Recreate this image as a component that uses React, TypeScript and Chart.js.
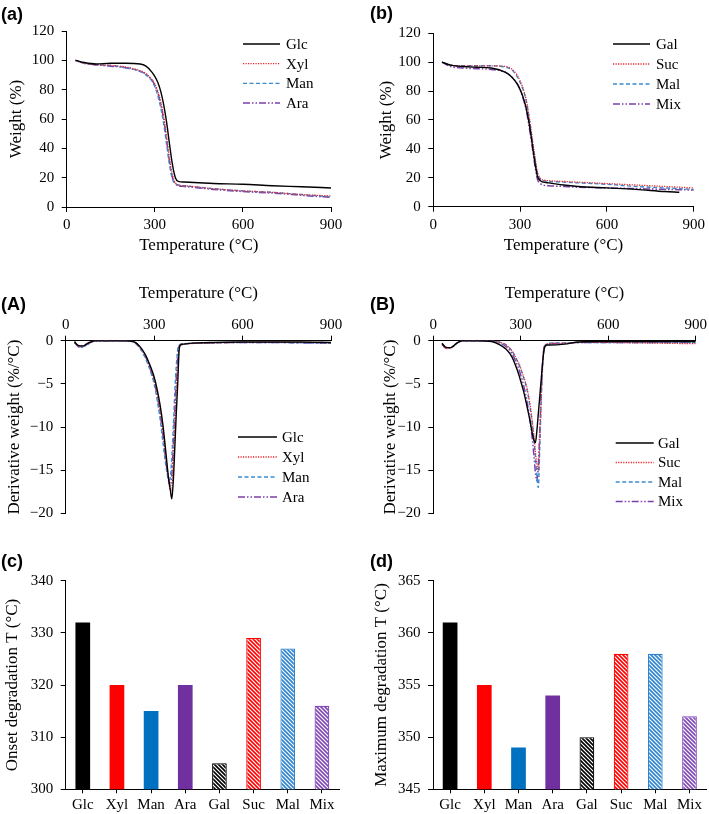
import React, { useEffect, useRef } from "react";
import { Chart, registerables } from "chart.js";
Chart.register(...registerables);

// ---------------- DATA ----------------
// TGA (a)
const TGA_A_T = [30, 60, 100, 150, 200, 250, 270, 290, 300, 310, 320, 330, 340, 350, 360, 370, 380, 400, 450, 500, 600, 700, 800, 900];
const TGA_GLC = [100, 98.5, 97.5, 98, 98, 97.5, 96, 92, 89, 85, 79, 70, 58, 43, 29, 20, 17.5, 17, 16.5, 16, 15.5, 14.5, 13.8, 13];
const TGA_XYL = [100, 98, 97, 96.5, 95.5, 93, 91, 87, 84, 79, 72, 62, 48, 33, 22, 16.5, 15, 14.5, 13.5, 12.5, 11, 10, 8.5, 7.5];
const TGA_MAN = [100, 98, 97, 96.5, 95, 92.5, 90, 86, 82, 76, 68, 57, 43, 29, 19, 16, 15, 14.5, 13.5, 12.5, 11, 10, 8.5, 7];
const TGA_ARA = [100, 98, 97, 96, 95, 92.5, 90.5, 86.5, 83, 78, 70, 60, 46, 31, 20, 16, 14.5, 14, 13, 12, 10.5, 9.5, 8, 6.5];
// TGA (b)
const TGA_B_T = [30, 60, 100, 150, 200, 250, 270, 290, 300, 310, 320, 330, 340, 350, 360, 370, 380, 400, 450, 500, 600, 700, 800, 850, 900];
const TGA_GAL = [100, 98, 97, 96.5, 96, 93, 90, 85, 81, 76, 69, 59, 46, 32, 21, 18, 17, 16.5, 15, 14, 13, 12, 10.5, 10, null];
const TGA_SUC = [100, 98, 97.5, 97.5, 97.5, 97, 95.5, 91, 87, 82, 75, 64, 50, 36, 24, 19.5, 18.5, 18, 17.5, 17, 16, 15, 14, 13.5, 13];
const TGA_MAL = [100, 98, 97.5, 97.5, 97.5, 96.5, 95, 90, 86, 81, 74, 63, 49, 35, 23, 19, 18, 17.5, 17, 16.5, 15.5, 14, 13, 12.5, 12];
const TGA_MIX = [100, 97, 96, 95.5, 95, 93, 90, 85, 81, 75, 68, 57, 44, 30, 19, 16, 15, 14.5, 14, 13.5, 13, 12.5, 12, 11.8, 11.5];
// DTG (A)
const DTG_T = [30, 40, 50, 60, 70, 80, 90, 100, 150, 200, 230, 250, 270, 290, 300, 310, 320, 330, 340, 345, 350, 355, 360, 365, 370, 375, 380, 385, 390, 400, 450, 500, 600, 700, 800, 900];
const DTG_GLC = [-0.1, -0.5, -0.6, -0.6, -0.4, -0.2, -0.1, 0, 0, 0, -0.1, -0.6, -1.6, -3.2, -4.2, -5.6, -7.4, -9.8, -13, -14.7, -16.2, -17.3, -18.3, -16.2, -12.5, -8.5, -5, -1.0, -0.5, -0.4, -0.25, -0.2, -0.15, -0.15, -0.15, -0.2];
const DTG_XYL = [-0.2, -0.5, -0.6, -0.6, -0.4, -0.2, -0.1, 0, 0, 0, -0.1, -0.7, -1.7, -3.4, -4.5, -6, -8, -10.5, -13.5, -15, -16.3, -17.3, -17.2, -14, -10, -6, -3, -0.9, -0.5, -0.4, -0.3, -0.25, -0.2, -0.2, -0.2, -0.25];
const DTG_MAN = [-0.2, -0.6, -0.7, -0.7, -0.5, -0.3, -0.1, 0, 0, 0, -0.15, -0.8, -2, -3.8, -5, -6.8, -9, -11.8, -14.5, -15.6, -16.2, -15.8, -13.5, -10, -6, -3, -1, -0.5, -0.4, -0.35, -0.3, -0.25, -0.2, -0.2, -0.25, -0.3];
const DTG_ARA = [-0.2, -0.6, -0.8, -0.7, -0.5, -0.3, -0.1, 0, 0, 0, -0.1, -0.7, -1.8, -3.6, -4.7, -6.3, -8.4, -11, -14, -15.3, -16.3, -16.8, -15.5, -12, -8, -4.5, -1.8, -0.6, -0.45, -0.35, -0.3, -0.25, -0.2, -0.2, -0.25, -0.3];
// DTG (B)
const DTG_GAL = [-0.3, -0.7, -0.8, -0.8, -0.6, -0.3, -0.1, 0, 0, -0.1, -0.5, -1.0, -1.9, -3.6, -4.7, -5.9, -7.4, -9, -10.8, -11.5, -11.8, -10.5, -8.5, -6.5, -4.5, -2.5, -1, -0.6, -0.5, -0.5, -0.4, -0.15, -0.1, -0.1, -0.1, -0.1];
const DTG_SUC = [-0.5, -0.8, -0.9, -0.8, -0.6, -0.3, -0.1, 0, 0, 0, -0.2, -0.5, -1.2, -2.4, -3.2, -4.2, -5.3, -7, -9.5, -11, -12.8, -14.3, -15, -11.5, -6.5, -2.5, -0.8, -0.5, -0.4, -0.3, -0.3, -0.2, -0.2, -0.25, -0.3, -0.35];
const DTG_MAL = [-0.4, -0.7, -0.8, -0.8, -0.6, -0.3, -0.1, 0, 0, 0, -0.2, -0.5, -1.2, -2.5, -3.3, -4.3, -5.5, -7.3, -9.8, -11.5, -13.5, -15.5, -17, -12.5, -7, -2.8, -0.8, -0.5, -0.4, -0.3, -0.25, -0.2, -0.2, -0.2, -0.2, -0.2];
const DTG_MIX = [-0.4, -0.8, -0.9, -0.8, -0.6, -0.3, -0.1, 0, 0, -0.05, -0.3, -0.7, -1.5, -3, -4, -5.2, -6.8, -8.8, -11.5, -13.3, -15.2, -16.2, -14.5, -10.5, -6, -2.5, -0.8, -0.5, -0.4, -0.35, -0.3, -0.2, -0.2, -0.2, -0.2, -0.2];
// Bars (c), (d)
const BAR_LABELS = ["Glc", "Xyl", "Man", "Ara", "Gal", "Suc", "Mal", "Mix"];
const ONSET_T = [332, 320, 315, 320, 305, 329, 327, 316];
const MAX_T = [361, 355, 349, 354, 350, 358, 358, 352];
// Tick ranges
const TEMP_TICKS = { min: 0, max: 900, step: 300 };
const WEIGHT_TICKS = { min: 0, max: 120, step: 20 };
const DERIV_TICKS = { min: -20, max: 0, step: 5 };
const ONSET_TICKS = { min: 300, max: 340, step: 10 };
const MAX_TICKS = { min: 345, max: 365, step: 5 };

// ---------------- STYLE ----------------
const FONT = "'Liberation Serif', 'Times New Roman', serif";
const TICK_SIZE = 15;
const TITLE_SIZE = 17;
const LEG_SIZE = 15;

const S_BLACK = { color: "#000000", dash: [] as number[], width: 1.4 };
const S_RED = { color: "#e8262b", dash: [1.2, 1.3], width: 1.3 };
const S_BLUE = { color: "#3a8ad0", dash: [4, 2.5], width: 1.4 };
const S_PURPLE = { color: "#7b3fab", dash: [7, 2, 1.5, 2, 1.5, 2], width: 1.5 };

const BAR_COLORS = ["#000000", "#ff0000", "#0070c0", "#7030a0", "#000000", "#ff0000", "#2f84d0", "#8047b8"];

type Leg = { x: number; y: number; dy: number; len: number; tx: number };

function hatch(color: string) {
  const c = document.createElement("canvas");
  c.width = 4;
  c.height = 4;
  const g = c.getContext("2d")!;
  g.fillStyle = "#ffffff";
  g.fillRect(0, 0, 4, 4);
  g.strokeStyle = color;
  g.lineWidth = 1.6;
  g.beginPath();
  g.moveTo(-1, -1);
  g.lineTo(5, 5);
  g.moveTo(-1, 3);
  g.lineTo(1, 5);
  g.moveTo(3, -1);
  g.lineTo(5, 1);
  g.stroke();
  return g.createPattern(c, "repeat")!;
}

function decor(label: string, lx: number, ly: number, names?: string[], styles?: any[], leg?: Leg) {
  return {
    id: "decor",
    afterDraw(chart: any) {
      const ctx = chart.ctx as CanvasRenderingContext2D;
      ctx.save();
      ctx.fillStyle = "#000";
      ctx.textAlign = "left";
      ctx.textBaseline = "middle";
      ctx.font = "bold 18px 'Liberation Sans', Arial, sans-serif";
      ctx.fillText(label, lx, ly);
      if (names && styles && leg) {
        ctx.font = `${LEG_SIZE}px ${FONT}`;
        names.forEach((n, i) => {
          const y = leg.y + i * leg.dy;
          const s = styles[i];
          ctx.strokeStyle = s.color;
          ctx.lineWidth = s.width;
          ctx.setLineDash(s.dash);
          ctx.beginPath();
          ctx.moveTo(leg.x, y);
          ctx.lineTo(leg.x + leg.len, y);
          ctx.stroke();
          ctx.setLineDash([]);
          ctx.fillStyle = "#000";
          ctx.fillText(n, leg.tx, y + 1);
        });
      }
      ctx.restore();
    },
  };
}

const tickFont = { family: FONT, size: TICK_SIZE };
const titleFont = { family: FONT, size: TITLE_SIZE };

function axisBase(tickLen: number) {
  return {
    grid: { display: true, drawOnChartArea: false, drawTicks: true, tickLength: tickLen, color: "#000", lineWidth: 1 },
    border: { display: true, color: "#000", width: 1 },
  };
}

const minusFmt = (v: any) => (Number(v) < 0 ? "\u2212" + Math.abs(Number(v)) : String(v));

function lineConfig(o: {
  T: number[];
  series: (number | null)[][];
  names: string[];
  styles: any[];
  ticksY: { min: number; max: number; step: number };
  yTitle: string;
  xTop: boolean;
  pad: { left: number; right: number; top: number; bottom: number };
  yWidth: number;
  xHeight: number;
  yTitlePad: number;
  xTitlePad: number;
  xTickPad: number;
  label: string;
  lx: number;
  ly: number;
  leg: Leg;
}) {
  const datasets = o.series.map((vals, i) => ({
    label: o.names[i],
    data: o.T.map((t, j) => ({ x: t, y: vals[j] })),
    borderColor: o.styles[i].color,
    borderDash: o.styles[i].dash,
    borderWidth: o.styles[i].width,
    pointRadius: 0,
    fill: false,
    cubicInterpolationMode: "monotone",
    spanGaps: false,
  }));
  return {
    type: "line",
    data: { datasets },
    options: {
      animation: false,
      responsive: false,
      events: [],
      layout: { padding: { left: o.pad.left, right: o.pad.right, top: o.pad.top, bottom: o.pad.bottom } },
      plugins: { legend: { display: false }, tooltip: { enabled: false } },
      scales: {
        x: {
          type: "linear",
          position: o.xTop ? "top" : "bottom",
          min: TEMP_TICKS.min,
          max: TEMP_TICKS.max,
          ticks: { stepSize: TEMP_TICKS.step, color: "#000", font: tickFont, padding: o.xTickPad, maxRotation: 0 },
          ...axisBase(5),
          title: {
            display: true,
            text: "Temperature (\u00b0C)",
            color: "#000",
            font: titleFont,
            padding: o.xTop ? { top: o.xTitlePad, bottom: 0 } : { top: 0, bottom: o.xTitlePad },
          },
          afterFit: (s: any) => {
            s.height = o.xHeight;
          },
        },
        y: {
          min: o.ticksY.min,
          max: o.ticksY.max,
          ticks: { stepSize: o.ticksY.step, color: "#000", font: tickFont, padding: 7.5, callback: minusFmt },
          ...axisBase(5),
          title: { display: true, text: o.yTitle, color: "#000", font: titleFont, padding: { top: o.yTitlePad, bottom: 0 } },
          afterFit: (s: any) => {
            s.width = o.yWidth;
          },
        },
      },
    },
    plugins: [decor(o.label, o.lx, o.ly, o.names, o.styles, o.leg)],
  };
}

function barConfig(o: {
  values: number[];
  ticksY: { min: number; max: number; step: number };
  yTitle: string;
  pad: { left: number; right: number; top: number; bottom: number };
  yWidth: number;
  xHeight: number;
  yTitlePad: number;
  label: string;
  lx: number;
  ly: number;
}) {
  const bg = BAR_COLORS.map((c, i) => (i >= 4 ? hatch(c) : c));
  return {
    type: "bar",
    data: {
      labels: BAR_LABELS,
      datasets: [
        {
          data: o.values,
          backgroundColor: bg,
          borderColor: BAR_COLORS,
          borderWidth: BAR_COLORS.map((_, i) => (i >= 4 ? 1.2 : 0)),
          borderSkipped: false,
          barPercentage: 0.43,
          categoryPercentage: 1,
        },
      ],
    },
    options: {
      animation: false,
      responsive: false,
      events: [],
      layout: { padding: o.pad },
      plugins: { legend: { display: false }, tooltip: { enabled: false } },
      scales: {
        x: {
          ticks: { color: "#000", font: tickFont, padding: 3, maxRotation: 0, autoSkip: false },
          grid: { display: true, drawOnChartArea: false, drawTicks: true, tickLength: 4, color: "#000", offset: false },
          border: { display: true, color: "#000", width: 1 },
          afterFit: (s: any) => {
            s.height = o.xHeight;
          },
        },
        y: {
          min: o.ticksY.min,
          max: o.ticksY.max,
          ticks: { stepSize: o.ticksY.step, color: "#000", font: tickFont, padding: 7.5 },
          ...axisBase(5),
          title: { display: true, text: o.yTitle, color: "#000", font: titleFont, padding: { top: o.yTitlePad, bottom: 0 } },
          afterFit: (s: any) => {
            s.width = o.yWidth;
          },
        },
      },
    },
    plugins: [decor(o.label, o.lx, o.ly)],
  };
}

function Panel(props: { left: number; top: number; width: number; height: number; make: () => any }) {
  const ref = useRef<HTMLCanvasElement>(null);
  useEffect(() => {
    const chart = new Chart(ref.current!, props.make());
    return () => chart.destroy();
  }, []);
  return (
    <canvas
      ref={ref}
      width={props.width}
      height={props.height}
      style={{ position: "absolute", left: props.left, top: props.top, width: props.width, height: props.height }}
    />
  );
}

const NAMES_A = ["Glc", "Xyl", "Man", "Ara"];
const NAMES_B = ["Gal", "Suc", "Mal", "Mix"];
const STYLES = [S_BLACK, S_RED, S_BLUE, S_PURPLE];

export default function App() {
  return (
    <div style={{ position: "absolute", left: 0, top: 0, width: 709, height: 814, background: "#fff", overflow: "hidden" }}>
      <Panel
        left={0}
        top={0}
        width={354}
        height={262}
        make={() =>
          lineConfig({
            T: TGA_A_T,
            series: [TGA_GLC, TGA_XYL, TGA_MAN, TGA_ARA],
            names: NAMES_A,
            styles: STYLES,
            ticksY: WEIGHT_TICKS,
            yTitle: "Weight (%)",
            xTop: false,
            pad: { left: 0, right: 23, top: 31, bottom: 0 },
            yWidth: 66.7,
            xHeight: 55,
            yTitlePad: 6.8,
            xTitlePad: 6,
            xTickPad: 4,
            label: "(a)",
            lx: 1,
            ly: 15,
            leg: { x: 243, y: 44, dy: 19.7, len: 37, tx: 286 },
          })
        }
      />
      <Panel
        left={354}
        top={0}
        width={355}
        height={262}
        make={() =>
          lineConfig({
            T: TGA_B_T,
            series: [TGA_GAL, TGA_SUC, TGA_MAL, TGA_MIX],
            names: NAMES_B,
            styles: STYLES,
            ticksY: WEIGHT_TICKS,
            yTitle: "Weight (%)",
            xTop: false,
            pad: { left: 0, right: 14.3, top: 33.3, bottom: 0 },
            yWidth: 79.3,
            xHeight: 55.3,
            yTitlePad: 22.8,
            xTitlePad: 6,
            xTickPad: 4,
            label: "(b)",
            lx: 16,
            ly: 14,
            leg: { x: 259, y: 44, dy: 20, len: 37, tx: 302 },
          })
        }
      />
      <Panel
        left={0}
        top={262}
        width={354}
        height={268}
        make={() =>
          lineConfig({
            T: DTG_T,
            series: [DTG_GLC, DTG_XYL, DTG_MAN, DTG_ARA],
            names: NAMES_A,
            styles: STYLES,
            ticksY: DERIV_TICKS,
            yTitle: "Derivative weight (%/\u00b0C)",
            xTop: true,
            pad: { left: 0, right: 23, top: 0, bottom: 15.7 },
            yWidth: 65.7,
            xHeight: 78.7,
            yTitlePad: 4,
            xTitlePad: 21.5,
            xTickPad: 2,
            label: "(A)",
            lx: 1,
            ly: 43,
            leg: { x: 238, y: 175, dy: 20, len: 39, tx: 282 },
          })
        }
      />
      <Panel
        left={354}
        top={262}
        width={355}
        height={268}
        make={() =>
          lineConfig({
            T: DTG_T,
            series: [DTG_GAL, DTG_SUC, DTG_MAL, DTG_MIX],
            names: NAMES_B,
            styles: STYLES,
            ticksY: DERIV_TICKS,
            yTitle: "Derivative weight (%/\u00b0C)",
            xTop: true,
            pad: { left: 0, right: 10.7, top: 0, bottom: 16 },
            yWidth: 79.3,
            xHeight: 78.7,
            yTitlePad: 26.5,
            xTitlePad: 21.5,
            xTickPad: 2,
            label: "(B)",
            lx: 16,
            ly: 43,
            leg: { x: 261.7, y: 181, dy: 19.5, len: 38, tx: 304 },
          })
        }
      />
      <Panel
        left={0}
        top={530}
        width={354}
        height={284}
        make={() =>
          barConfig({
            values: ONSET_T,
            ticksY: ONSET_TICKS,
            yTitle: "Onset degradation T (\u00b0C)",
            pad: { left: 0, right: 15, top: 50.7, bottom: 0 },
            yWidth: 65.7,
            xHeight: 24.7,
            yTitlePad: 2.3,
            label: "(c)",
            lx: 1,
            ly: 32,
          })
        }
      />
      <Panel
        left={354}
        top={530}
        width={355}
        height={284}
        make={() =>
          barConfig({
            values: MAX_T,
            ticksY: MAX_TICKS,
            yTitle: "Maximum degradation T (\u00b0C)",
            pad: { left: 0, right: 2.4, top: 50.7, bottom: 0 },
            yWidth: 79,
            xHeight: 24.7,
            yTitlePad: 17.3,
            label: "(d)",
            lx: 16,
            ly: 32,
          })
        }
      />
    </div>
  );
}
